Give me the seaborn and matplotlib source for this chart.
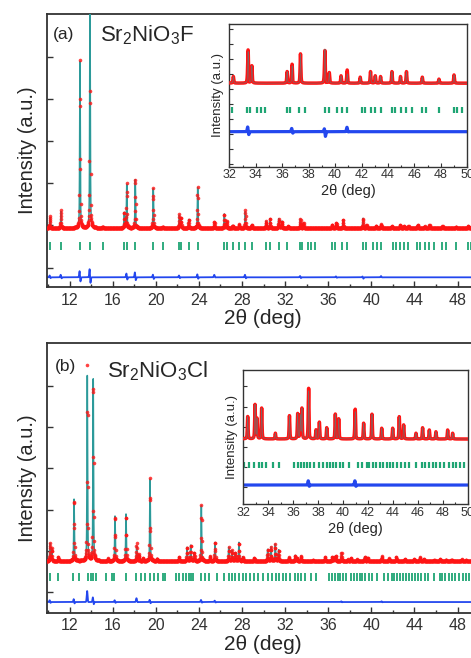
import numpy as np
import matplotlib
matplotlib.use("Agg")
import matplotlib.pyplot as plt
import seaborn as sns
from matplotlib.ticker import MultipleLocator

# ---- data (2theta in deg, intensity in arbitrary units) ----
# panel (a) Sr2NiO3F : peak positions / calculated heights above background
a_peak_pos = [10.19, 11.21, 12.97, 13.90, 15.08, 17.08, 17.31, 18.10, 19.77, 20.65,
              22.19, 22.34, 23.06, 23.89, 25.45, 26.36, 26.58, 27.14, 27.75, 28.31,
              28.90, 30.23, 30.60, 31.41, 31.70, 32.30, 33.42, 33.70, 36.37, 36.75,
              37.38, 39.23, 39.56, 40.45, 40.92, 41.90, 42.68, 43.04, 43.44, 44.30,
              44.95, 45.40, 46.60, 47.86, 49.00]
a_peak_hgt = [0.25, 0.39, 3.94, 5.60, 0.03, 0.36, 1.03, 1.14, 0.93, 0.03,
              0.30, 0.24, 0.20, 0.95, 0.10, 0.33, 0.16, 0.06, 0.08, 0.39,
              0.08, 0.16, 0.22, 0.22, 0.16, 0.044, 0.21, 0.115, 0.077, 0.115,
              0.195, 0.227, 0.07, 0.049, 0.062, 0.04, 0.077, 0.049, 0.044, 0.077,
              0.044, 0.077, 0.04, 0.027, 0.055]
a_bragg = [10.19, 11.21, 12.97, 13.90, 15.08, 17.08, 17.31, 18.10, 19.77, 20.65,
           22.19, 22.34, 23.06, 23.89, 26.36, 26.58, 27.14, 27.75, 28.31, 28.90,
           30.23, 30.60, 31.41, 32.20, 33.34, 33.59, 34.10, 34.42, 34.73, 36.37,
           36.62, 37.30, 37.76, 39.23, 39.53, 40.16, 40.54, 40.92, 42.00, 42.30,
           42.68, 43.02, 43.44, 44.27, 44.53, 44.95, 45.33, 45.84, 46.60, 46.90,
           47.86, 49.00, 49.25, 49.58]
a_diff_pos = [10.19, 11.21, 12.97, 13.90, 17.31, 18.10, 19.77, 22.19, 23.89, 25.45,
              28.31, 33.42, 36.75, 39.23, 40.92]
a_diff_sym = [0.02, 0.03, 0.04, 0.05, 0.03, 0.04, 0.02, 0.02, 0.03, 0.05,
              0.03, 0.01, 0.01, -0.01, 0.025]
a_diff_asy = [0.03, 0.04, 0.12, 0.16, 0.07, 0.09, 0.05, 0.03, 0.05, 0.02,
              0.04, 0.025, 0.015, 0.025, 0.01]

# panel (b) Sr2NiO3Cl
b_peak_pos = [10.19, 10.35, 10.96, 12.42, 13.65, 14.20, 15.57, 16.22, 17.24, 18.23,
              18.45, 18.82, 19.47, 20.12, 22.16, 22.90, 23.24, 23.58, 24.23, 25.03,
              25.50, 26.77, 27.07, 27.38, 27.72, 28.07, 29.14, 30.38, 30.69, 31.09,
              31.40, 32.35, 32.94, 33.10, 33.47, 34.57, 35.70, 36.36, 36.57, 36.70,
              37.24, 37.83, 38.10, 38.69, 39.38, 39.65, 40.98, 41.65, 42.32, 43.10,
              43.98, 44.51, 44.86, 45.85, 46.38, 46.92, 47.45, 48.39, 48.79]
b_peak_hgt = [0.42, 0.30, 0.10, 1.50, 4.50, 4.42, 0.06, 1.09, 1.14, 0.36,
              0.15, 0.06, 1.99, 0.06, 0.10, 0.33, 0.38, 0.20, 1.34, 0.12,
              0.45, 0.33, 0.25, 0.20, 0.45, 0.10, 0.08, 0.28, 0.34, 0.41,
              0.27, 0.089, 0.136, 0.08, 0.123, 0.023, 0.093, 0.10, 0.092, 0.12,
              0.192, 0.036, 0.067, 0.045, 0.099, 0.08, 0.109, 0.063, 0.099, 0.043,
              0.043, 0.089, 0.056, 0.023, 0.045, 0.036, 0.029, 0.036, 0.023]
b_bragg = [10.19, 10.90, 12.35, 12.91, 13.69, 13.99, 14.21, 14.46, 15.39, 15.94,
           16.16, 17.24, 18.17, 18.63, 19.03, 19.47, 19.87, 20.18, 20.64, 20.89,
           21.88, 22.13, 22.50, 22.81, 23.06, 23.27, 23.48, 24.20, 24.60, 24.97,
           25.66, 26.36, 26.77, 27.07, 27.38, 27.70, 28.07, 28.37, 28.74, 29.14,
           29.46, 29.92, 30.39, 30.79, 31.16, 31.46, 31.80, 32.08, 32.48, 32.88,
           33.23, 33.50, 33.82, 34.41, 34.89, 36.09, 36.36, 36.63, 36.89, 37.08,
           37.35, 37.69, 38.09, 38.42, 38.68, 38.95, 39.17, 39.43, 39.75, 40.02,
           40.50, 41.17, 41.52, 41.90, 42.10, 42.37, 42.64, 42.96, 43.18, 43.50,
           43.76, 44.03, 44.30, 44.65, 44.99, 45.26, 45.85, 46.33, 46.60, 46.87,
           47.19, 47.45, 47.77, 48.12, 48.52, 48.79, 49.06, 49.38, 49.72]
b_diff_pos = [10.19, 12.42, 13.65, 14.20, 16.22, 18.23, 19.47, 24.23, 25.50, 37.24, 40.98]
b_diff_sym = [0.02, 0.03, 0.25, 0.05, 0.02, 0.08, 0.02, 0.03, 0.02, 0.01, 0.01]
b_diff_asy = [0.03, 0.05, 0.06, 0.08, 0.03, 0.03, 0.04, 0.03, 0.02, 0.01, 0.01]

RED = "#ff1414"
TEAL = "#2c9a9a"
GREEN = "#1fa574"
BLUE = "#2347ee"

sns.set_theme(style="ticks")
plt.rcParams.update({
    "font.family": ["Liberation Sans", "DejaVu Sans"],
    "mathtext.fontset": "custom",
    "mathtext.rm": "Liberation Sans",
    "mathtext.default": "regular",
    "axes.edgecolor": "#333333",
    "xtick.color": "#333333",
    "ytick.color": "#333333",
})

# sampling grids: fine one for the calculated curve, measurement step for the points
tt_calc = np.arange(9.85, 50.02, 0.005)
tt_obs = np.arange(9.85, 50.02, 0.02)


def profile(x, pos, hgt, w=0.065, eta=0.55):
    out = np.zeros_like(x)
    for p, h in zip(pos, hgt):
        u = (x - p) / (w / 2)
        out += h * (eta / (1 + u ** 2) + (1 - eta) * np.exp(-np.log(2) * u ** 2))
    return out


def misfit(x, pos, sym, asy, w=0.12):
    out = np.zeros_like(x)
    for p, s, a in zip(pos, sym, asy):
        u = (x - p) / (w / 2)
        g = np.exp(-u ** 2)
        out += s * g - a * 2.33 * u * g
    return out


def draw_main(ax, pk, dk, bragg, base, ty, th, dy):
    calc = profile(tt_calc, *pk)
    obs = profile(tt_obs, *pk) + misfit(tt_obs, *dk)
    sns.lineplot(x=tt_calc, y=base + calc, ax=ax, color=TEAL, lw=1.1,
                 estimator=None, sort=False, zorder=3)
    ax.plot(tt_obs, base + obs, "o", ms=2.6, mew=0, color=RED, alpha=0.8, zorder=4)
    ax.vlines(bragg, ty - th / 2, ty + th / 2, color=GREEN, lw=1.3, zorder=2)
    sns.lineplot(x=tt_calc, y=dy + misfit(tt_calc, *dk), ax=ax, color=BLUE, lw=1.3,
                 estimator=None, sort=False, zorder=2)


def draw_inset(ax, pk, dk, bragg, base, ty, th, dy):
    calc = profile(tt_calc, *pk)
    obs = profile(tt_calc, *pk) + misfit(tt_calc, *dk)
    sns.lineplot(x=tt_calc, y=base + obs, ax=ax, color=RED, lw=2.5,
                 estimator=None, sort=False, zorder=3)
    sns.lineplot(x=tt_calc, y=base + calc, ax=ax, color=TEAL, lw=0.5, alpha=0.6,
                 estimator=None, sort=False, zorder=4)
    ax.vlines(bragg, ty - th / 2, ty + th / 2, color=GREEN, lw=1.6, zorder=2)
    sns.lineplot(x=tt_calc, y=dy + misfit(tt_calc, *dk), ax=ax, color=BLUE, lw=2.3,
                 estimator=None, sort=False, zorder=2)


fig = plt.figure(figsize=(4.71, 6.58), dpi=100)

panels = [
    dict(pk=(a_peak_pos, a_peak_hgt), dk=(a_diff_pos, a_diff_sym, a_diff_asy), bragg=a_bragg,
         rect=[0.0992, 0.5638, 0.918, 0.4144], ylim=(-0.46, 6.0),
         base=0.94, ty=0.51, dy=-0.23, irect=[0.487, 0.7467, 0.505, 0.217],
         iylim=(0.384, 1.335), ity=0.762, idy=0.617, iyloc=0.1, ith=0.035,
         letter="(a)", lxy=(0.1125, 0.940), formula=r"Sr$_2$NiO$_3$F", fxy=(0.212, 0.9366)),
    dict(pk=(b_peak_pos, b_peak_hgt), dk=(b_diff_pos, b_diff_sym, b_diff_asy), bragg=b_bragg,
         rect=[0.0992, 0.0688, 0.918, 0.4099], ylim=(-0.51, 6.05),
         base=0.75, ty=0.36, dy=-0.25, irect=[0.5166, 0.2336, 0.4764, 0.2041],
         iylim=(0.489, 1.026), ity=0.646, idy=0.566, iyloc=0.08, ith=0.022,
         letter="(b)", lxy=(0.117, 0.436), formula=r"Sr$_2$NiO$_3$Cl", fxy=(0.227, 0.427)),
]

for p in panels:
    ax = fig.add_axes(p["rect"])
    draw_main(ax, p["pk"], p["dk"], p["bragg"], p["base"], p["ty"], 0.18, p["dy"])
    ax.set_xlim(9.885, 50)
    ax.set_ylim(*p["ylim"])
    ax.set_yticks([0, 1, 2, 3, 4, 5])
    ax.xaxis.set_major_locator(MultipleLocator(4))
    ax.xaxis.set_minor_locator(MultipleLocator(2))
    ax.tick_params(which="both", direction="in", top=False, right=False, labelleft=False,
                   labelsize=11.5, pad=4)
    ax.tick_params(which="major", length=4, width=1.0)
    ax.tick_params(which="minor", length=2.5, width=1.0)
    for s in ax.spines.values():
        s.set_linewidth(1.3)
    ax.set_xlabel("2θ (deg)", fontsize=15, labelpad=1)
    ax.set_ylabel("Intensity (a.u.)", fontsize=14.5, labelpad=7)

    fig.text(*p["lxy"], p["letter"], fontsize=12.5, va="baseline")
    fig.text(*p["fxy"], p["formula"], fontsize=16, va="baseline")

    ins = fig.add_axes(p["irect"])
    ins.set_facecolor("white")
    draw_inset(ins, p["pk"], p["dk"], p["bragg"], p["base"], p["ity"], p["ith"], p["idy"])
    ins.set_xlim(32, 50)
    ins.set_ylim(*p["iylim"])
    ins.xaxis.set_major_locator(MultipleLocator(2))
    ins.xaxis.set_minor_locator(MultipleLocator(1))
    ins.yaxis.set_major_locator(MultipleLocator(p["iyloc"]))
    ins.tick_params(which="both", direction="in", top=False, right=False, labelleft=False,
                    labelsize=9, pad=2)
    ins.tick_params(which="major", length=3, width=0.8)
    ins.tick_params(which="minor", length=1.8, width=0.8)
    for s in ins.spines.values():
        s.set_linewidth(1.0)
    ins.set_xlabel("2θ (deg)", fontsize=10.5, labelpad=2)
    ins.set_ylabel("Intensity (a.u.)", fontsize=9.5, labelpad=4)

fig.savefig("out.png", dpi=100)
